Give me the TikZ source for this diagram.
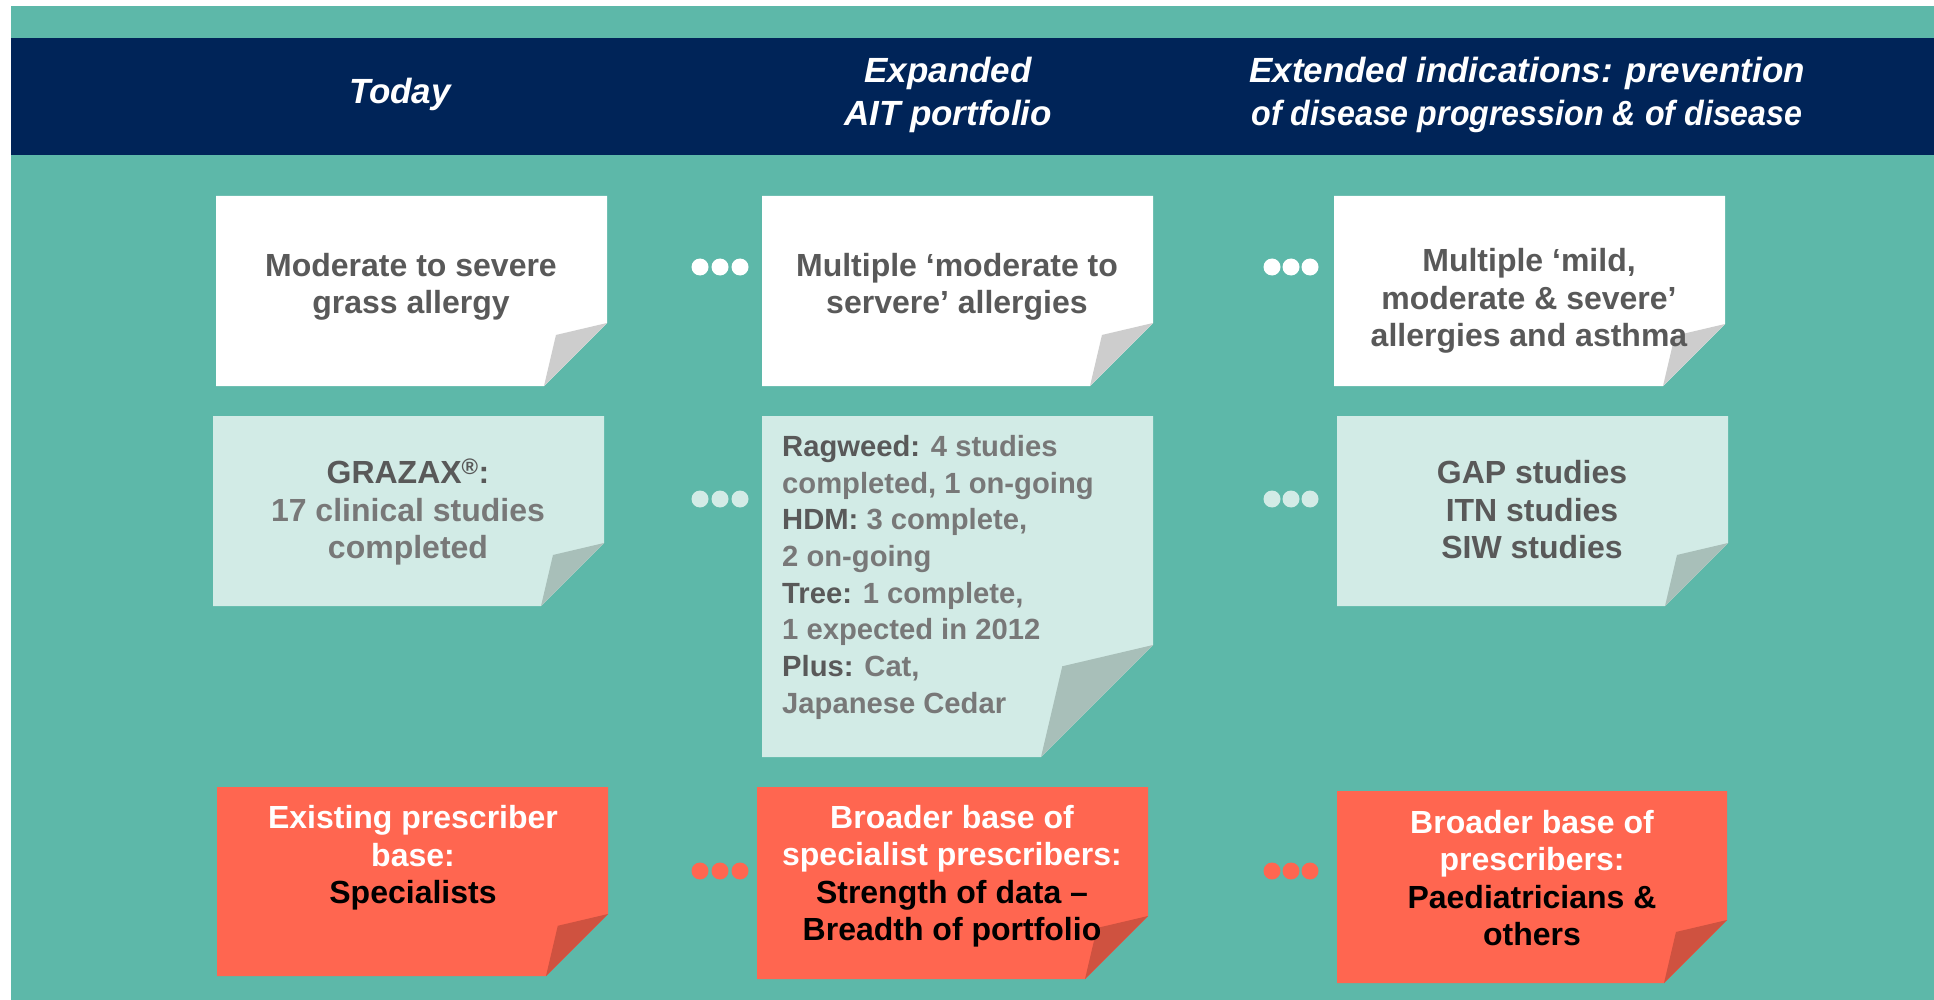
\documentclass[tikz,border=0pt]{standalone}
\usepackage{graphicx}
\usepackage{fontspec}
\setmainfont{Liberation Sans}

\definecolor{bgteal}{HTML}{5DB8A9}
\definecolor{navy}{HTML}{002458}
\definecolor{notelight}{HTML}{D2EBE6}
\definecolor{notered}{HTML}{FF6650}
\definecolor{foldwhite}{HTML}{CDCDCD}
\definecolor{foldlight}{HTML}{A8BFB9}
\definecolor{foldred}{HTML}{CF5240}
\definecolor{textdark}{HTML}{595959}
\definecolor{textlight}{HTML}{787878}

% sticky note: left, top, right, bottom, fold, fill, fold fill
\newcommand{\stickynote}[7]{%
  \fill[#6] (#1,#2) -- (#3,#2) -- (#3,#4-#5) -- (#3-#5,#4) -- (#1,#4) -- cycle;
  \fill[#7] (#3-#5,#4) -- (#3-0.81*#5,#4-0.81*#5) -- (#3,#4-#5) -- cycle;}

\begin{document}
\begin{tikzpicture}[x=1pt, y=-1pt,
  head/.style = {inner sep=0pt, align=center, text=white, font=\bfseries\itshape\fontsize{35}{43}\selectfont},
  note/.style = {inner sep=0pt, align=center, text=textdark, font=\bfseries\fontsize{32}{37.5}\selectfont},
  small/.style = {inner sep=0pt, align=left, text=textlight, font=\bfseries\fontsize{29.2}{36.7}\selectfont}]
\useasboundingbox (0,0) rectangle (1934,1000);
\fill[white] (0,0) rectangle (1934,1000);
\fill[bgteal] (11,6) rectangle (1934,1000);
\fill[navy] (11,38) rectangle (1934,155);

% column headers
\node[head] (today) at (400,94) {Today};
\node[head] (expanded) at (948,95) {Expanded\\AIT portfolio};
\node[head] (extended) at (1527,95) {Extended indications: prevention\\\scalebox{0.92}[1]{of disease progression \& of disease}};

% notes
\stickynote{216}{196}{607}{386}{63}{white}{foldwhite}
\stickynote{762}{196}{1153}{386}{63}{white}{foldwhite}
\stickynote{1334}{196}{1725}{386}{62}{white}{foldwhite}
\stickynote{213}{416}{604}{606}{63}{notelight}{foldlight}
\stickynote{762}{416}{1153}{757}{112}{notelight}{foldlight}
\stickynote{1337}{416}{1728}{606}{63}{notelight}{foldlight}
\stickynote{217}{787}{608}{976}{62}{notered}{foldred}
\stickynote{757}{787}{1148}{979}{63}{notered}{foldred}
\stickynote{1337}{791}{1727}{983}{63}{notered}{foldred}

% dots between the columns
\foreach \y/\c in {267/white, 499/notelight, 871/notered}
  \foreach \x in {700,720,740,1272,1291,1310}
    \fill[\c] (\x,\y) circle[radius=8.5];

% note texts
\node[note] (grass) at (411,287) {Moderate to severe\\grass allergy};
\node[note] (multi) at (957,287) {Multiple ‘moderate to\\servere’ allergies};
\node[note] (mild) at (1529,301) {Multiple ‘mild,\\moderate \& severe’\\allergies and asthma};
\node[note, text=textlight] (grazax) at (408,512) {\textcolor{textdark}{GRAZAX\textsuperscript{®}:}\\17 clinical studies\\completed};
\node[note] (gap) at (1532,510) {GAP studies\\ITN studies\\SIW studies};
\node[small, anchor=north west] (ragweed) at (782,435) {\textcolor{textdark}{Ragweed:} 4 studies\\completed, 1 on-going\\\textcolor{textdark}{HDM:} 3 complete,\\2 on-going\\\textcolor{textdark}{Tree:} 1 complete,\\1 expected in 2012\\\textcolor{textdark}{Plus:} Cat,\\Japanese Cedar};
\node[note, text=white] (existing) at (413,858) {Existing prescriber\\base:\\\textcolor{black}{Specialists}};
\node[note, text=white] (broader) at (952,876) {Broader base of\\specialist prescribers:\\\textcolor{black}{Strength of data –}\\\textcolor{black}{Breadth of portfolio}};
\node[note, text=white] (paed) at (1532,878) {Broader base of\\prescribers:\\\textcolor{black}{Paediatricians \&}\\\textcolor{black}{others}};
\end{tikzpicture}
\end{document}
